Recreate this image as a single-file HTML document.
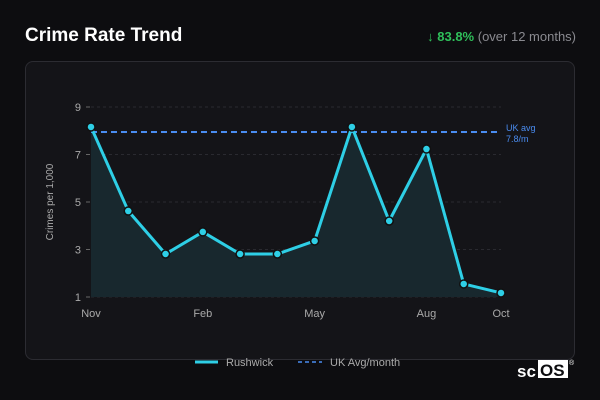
<!DOCTYPE html>
<html><head><meta charset="utf-8"><style>
body{margin:0;width:600px;height:400px;background:#0d0d10;font-family:"Liberation Sans","DejaVu Sans",sans-serif;overflow:hidden;position:relative}
.title{position:absolute;left:25px;top:25px;color:#fff;font-weight:bold;font-size:19px}
.chg{position:absolute;right:24px;top:29px;color:#8a8a90;font-size:13px}
.chg b{color:#2fbf5a}
.card{position:absolute;left:25px;top:61px;width:550px;height:299px;border:1px solid #2c2c32;border-radius:8px;background:#141418;box-sizing:border-box}
svg{position:absolute;left:0;top:0}
</style></head><body>
<div class="title">Crime Rate Trend</div>
<div class="chg"><b>↓ 83.8%</b> (over 12 months)</div>
<div class="card"></div>
<svg id="c" width="600" height="400"></svg>
<script>
const months=["Nov","Dec","Jan","Feb","Mar","Apr","May","Jun","Jul","Aug","Sep","Oct"];
const values=[8.16,4.62,2.81,3.74,2.81,2.81,3.36,8.16,4.2,7.23,1.55,1.17];
const yTicks=[1,3,5,7,9];
const xTickIdx=[0,3,6,9,11];
const ukAvg=7.95;
const ukLabel=["UK avg","7.8/m"];
const NS="http://www.w3.org/2000/svg";
const svg=document.getElementById('c');
const x0=91,x1=501,y0=297,y1=107;
const X=i=>x0+(x1-x0)*i/(months.length-1);
const Y=v=>y0-(v-1)/(9-1)*(y0-y1);
function el(t,a,p){const e=document.createElementNS(NS,t);for(const k in a)e.setAttribute(k,a[k]);(p||svg).appendChild(e);return e;}
yTicks.forEach(v=>{
 const g=el('line',{x1:x0,x2:x1,y1:Y(v),y2:Y(v),stroke:'#2a2a30','stroke-dasharray':'3,3'});
 
 
 el('line',{x1:x0-5,x2:x0-1,y1:Y(v),y2:Y(v),stroke:'#666'});
 const t=el('text',{x:x0-10,y:Y(v)+4,'text-anchor':'end',fill:'#aaa','font-size':11});
 t.textContent=v;
 
 
});
xTickIdx.forEach(i=>{
 const t=el('text',{x:X(i),y:y0+20,'text-anchor':'middle',fill:'#aaa','font-size':11});
 t.textContent=months[i];
 
 
});
const yt=el('text',{x:0,y:0,transform:'translate(53,202) rotate(-90)','text-anchor':'middle',fill:'#aaa','font-size':10});
yt.textContent='Crimes per 1,000';


let d=values.map((v,i)=>(i?'L':'M')+X(i)+','+Y(v)).join(' ');
const area=el('path',{d:d+` L${X(values.length-1)},${y0} L${x0},${y0} Z`,fill:'#18282e'});


const uk=el('line',{x1:x0,x2:x1,y1:Y(ukAvg),y2:Y(ukAvg),stroke:'#4a8cf0','stroke-width':2,'stroke-dasharray':'6,4'});


ukLabel.forEach((s,k)=>{
 const t=el('text',{x:x1+5,y:Y(ukAvg)-1+k*11,fill:'#4a8cf0','font-size':9});
 t.textContent=s;
 
 
});
const ln=el('path',{d:d,fill:'none',stroke:'#2ecfe6','stroke-width':3,'stroke-linejoin':'round'});


values.forEach((v,i)=>{
 const c=el('circle',{cx:X(i),cy:Y(v),r:4,fill:'#2ecfe6',stroke:'#111','stroke-width':1.5});
 
 
});
const l1=el('line',{x1:195,x2:218,y1:362,y2:362,stroke:'#2ecfe6','stroke-width':3});


const lt1=el('text',{x:226,y:366,fill:'#aaa','font-size':11});
lt1.textContent='Rushwick';


const l2=el('line',{x1:298,x2:322,y1:362,y2:362,stroke:'#4a8cf0','stroke-width':1.5,'stroke-dasharray':'4,3'});


const lt2=el('text',{x:330,y:366,fill:'#aaa','font-size':11});
lt2.textContent='UK Avg/month';


const lg=el('g',{});


const t1=el('text',{x:517,y:377,fill:'#fff','font-size':17,'font-weight':'bold'},lg);t1.textContent='sc';
el('rect',{x:538,y:360,width:30,height:18,fill:'#fff'},lg);
const t2=el('text',{x:540,y:376,fill:'#0d0d10','font-size':17,'font-weight':'bold'},lg);t2.textContent='OS';
const t3=el('text',{x:569,y:365,fill:'#fff','font-size':7},lg);t3.textContent='®';
</script>
</body></html>
